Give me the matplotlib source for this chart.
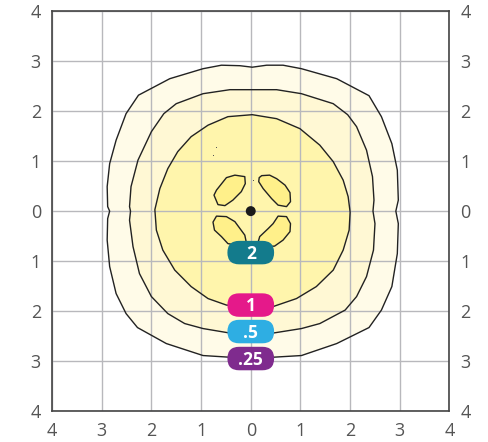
import numpy as np
import matplotlib
matplotlib.use("Agg")
import matplotlib.pyplot as plt
from matplotlib.patches import Polygon, FancyBboxPatch, Circle

# iso-contour outlines (metres)
OUTER_X = [0.03, 0.32, 0.65, 1.02, 1.73, 2.38, 2.63, 2.84, 2.95, 2.97, 2.92, 2.97, 2.95, 2.84, 2.63,
           2.38, 1.73, 1.02, 0.0, -0.96, -1.70, -2.28, -2.51, -2.71, -2.84, -2.89, -2.88, -2.84,
           -2.88, -2.89, -2.84, -2.71, -2.51, -2.26, -1.63, -0.96, -0.59, -0.22]
OUTER_Y = [2.88, 2.92, 2.92, 2.85, 2.65, 2.31, 1.89, 1.35, 0.82, 0.22, 0.0, -0.25, -0.85, -1.51, -1.98,
           -2.33, -2.65, -2.89, -2.95, -2.89, -2.65, -2.33, -2.05, -1.65, -1.11, -0.58, -0.15, 0.0,
           0.09, 0.49, 0.95, 1.42, 1.95, 2.32, 2.65, 2.85, 2.92, 2.91]

MID_X = [0.02, 0.52, 1.02, 1.66, 1.95, 2.13, 2.33, 2.45, 2.48, 2.46, 2.50, 2.47, 2.33, 2.13, 1.90,
         1.39, 1.02, 0.45, 0.0, -0.36, -0.96, -1.33, -1.67, -2.0, -2.24, -2.37, -2.44, -2.42, -2.44,
         -2.41, -2.27, -2.0, -1.75, -1.50, -0.96, -0.42]
MID_Y = [2.43, 2.43, 2.35, 2.15, 1.93, 1.69, 1.22, 0.69, 0.22, 0.0, -0.25, -0.78, -1.31, -1.71, -1.98,
         -2.25, -2.35, -2.44, -2.45, -2.45, -2.35, -2.25, -2.05, -1.71, -1.25, -0.71, -0.18, 0.0, 0.09,
         0.49, 1.02, 1.59, 1.95, 2.15, 2.35, 2.43]

INNER_X = [0.03, 0.52, 0.99, 1.39, 1.66, 1.86, 1.96, 2.0, 1.98, 1.86, 1.66, 1.32, 0.92, 0.45, 0.0,
           -0.49, -0.86, -1.20, -1.53, -1.77, -1.90, -1.93, -1.83, -1.67, -1.47, -1.20, -0.86, -0.46]
INNER_Y = [1.93, 1.85, 1.65, 1.32, 0.99, 0.62, 0.29, -0.02, -0.38, -0.78, -1.18, -1.51, -1.75, -1.91,
           -1.92, -1.88, -1.75, -1.51, -1.18, -0.78, -0.38, 0.03, 0.45, 0.85, 1.19, 1.49, 1.72, 1.89]

BLOB_UL_X = [-0.12, -0.32, -0.49, -0.69, -0.74, -0.66, -0.52, -0.36, -0.19, -0.11]
BLOB_UL_Y = [0.69, 0.72, 0.67, 0.42, 0.32, 0.13, 0.11, 0.22, 0.39, 0.55]
BLOB_UR_X = [0.22, 0.38, 0.52, 0.69, 0.79, 0.80, 0.72, 0.55, 0.42, 0.25, 0.16, 0.17]
BLOB_UR_Y = [0.71, 0.72, 0.65, 0.52, 0.37, 0.19, 0.09, 0.12, 0.25, 0.45, 0.59, 0.67]
BLOB_LL_X = [-0.69, -0.49, -0.32, -0.12, -0.07, -0.46, -0.59, -0.73, -0.76]
BLOB_LL_Y = [-0.10, -0.11, -0.21, -0.48, -0.72, -0.65, -0.51, -0.38, -0.22]
BLOB_LR_X = [0.55, 0.72, 0.80, 0.79, 0.65, 0.48, 0.12, 0.18, 0.35, 0.45]
BLOB_LR_Y = [-0.10, -0.11, -0.25, -0.41, -0.58, -0.70, -0.72, -0.51, -0.35, -0.25]

SPECK_X = [-0.69, -0.76, 0.05]
SPECK_Y = [1.29, 1.12, 0.62]

LEVEL_TEXT = ["2", "1", ".5", ".25"]
LEVEL_Y = [-0.83, -1.88, -2.41, -2.95]
LEVEL_COLORS = ["#137b8c", "#e5198a", "#2eaee3", "#7f2b8e"]

TICKS = [-4, -3, -2, -1, 0, 1, 2, 3, 4]
TICK_LABELS = ["4", "3", "2", "1", "0", "1", "2", "3", "4"]

FILLS = ["#fffbe8", "#fff8d4", "#fff5ac", "#fff08a"]


def add_shape(ax, xs, ys, fc):
    pts = np.column_stack([xs, ys])
    ax.add_patch(Polygon(pts, closed=True, fc=fc, ec="none", zorder=1))
    ax.add_patch(Polygon(pts, closed=True, fill=False, ec="#222222", lw=1.0,
                         joinstyle="round", zorder=3))


def main():
    fig = plt.figure(figsize=(4.88, 4.42), dpi=100)
    ax = fig.add_axes([0.1066, 0.0701, 0.8145, 0.9045])
    ax.set_xlim(-4, 4)
    ax.set_ylim(-4, 4)

    add_shape(ax, OUTER_X, OUTER_Y, FILLS[0])
    add_shape(ax, MID_X, MID_Y, FILLS[1])
    add_shape(ax, INNER_X, INNER_Y, FILLS[2])
    for bx, by in [(BLOB_UL_X, BLOB_UL_Y), (BLOB_UR_X, BLOB_UR_Y),
                   (BLOB_LL_X, BLOB_LL_Y), (BLOB_LR_X, BLOB_LR_Y)]:
        add_shape(ax, bx, by, FILLS[3])

    # stray specks from the source drawing
    ax.plot(SPECK_X, SPECK_Y, ls="none", marker="s", ms=0.7, mew=0,
            color="#555555", zorder=3)
    ax.add_patch(Circle((0, 0), 0.1, fc="#1a1a1a", ec="none", zorder=4))

    # level tags
    w, h = 0.94, 0.47
    for txt, y, c in zip(LEVEL_TEXT, LEVEL_Y, LEVEL_COLORS):
        ax.add_patch(FancyBboxPatch((-w / 2, y - h / 2), w, h,
                                    boxstyle=f"round,pad=0,rounding_size={h / 2}",
                                    fc=c, ec="none", zorder=5))
        ax.text(0, y - 0.02, txt, ha="center", va="center", color="white",
                fontsize=12.5, fontweight="bold", family="Open Sans", zorder=6)

    ax.set_xticks(TICKS)
    ax.set_yticks(TICKS)
    ax.set_xticklabels(TICK_LABELS)
    ax.set_yticklabels(TICK_LABELS)
    ax.grid(True, color="#b8b8bc", lw=1.0)
    ax.set_axisbelow(False)
    ax.tick_params(length=0, pad=8, labelsize=13, labelcolor="#555555",
                   left=True, right=True, labelleft=True, labelright=True)
    for lab in ax.get_xticklabels() + ax.get_yticklabels():
        lab.set_family("Open Sans")
    for sp in ax.spines.values():
        sp.set_color("#444444")
        sp.set_linewidth(1.2)
        sp.set_zorder(7)

    fig.savefig("out.png", dpi=100)


if __name__ == "__main__":
    main()
